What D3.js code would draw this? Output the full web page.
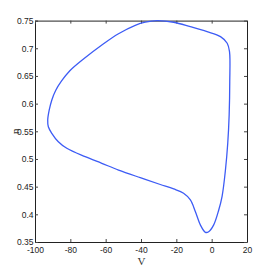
<!DOCTYPE html>
<html>
<head>
<script src="https://d3js.org/d3.v7.min.js"></script>
<style>
  body { margin: 0; background: #fff; }
  .tick text { font-family: "Liberation Sans Narrow", "Liberation Sans", sans-serif; font-size: 8.5px; fill: #222; }
</style>
</head>
<body>
<div id="chart"></div>
<script>
// limit cycle (V, n), clockwise from left edge
const vVals = [-92.8, -91.94, -90.47, -88.31, -84.96, -80.14, -72.2, -62.16, -52.74, -43.26, -37.59, -30.95, -21.5, -12.1, -2.6, 5.0, 8.8, 10.1, 10.24, 9.9, 9.1, 7.8, 5.9, 4.0, 1.15, -1.7, -3.55, -6.4, -9.2, -12.05, -15.9, -21.5, -29.08, -40.4, -52.7, -62.2, -71.6, -82.0, -86.8, -90.5, -92.45];
const nVals = [0.5704, 0.5885, 0.6066, 0.6237, 0.6409, 0.6598, 0.6815, 0.7059, 0.7262, 0.7415, 0.7471, 0.7498, 0.747, 0.739, 0.730, 0.721, 0.709, 0.6938, 0.6396, 0.5794, 0.5283, 0.480, 0.4325, 0.4078, 0.381, 0.3686, 0.3675, 0.381, 0.4047, 0.4259, 0.438, 0.4458, 0.4539, 0.4662, 0.480, 0.4922, 0.5041, 0.5193, 0.5312, 0.5464, 0.5583];
const xTicks = [-100, -80, -60, -40, -20, 0, 20];
const yTicks = [0.35, 0.4, 0.45, 0.5, 0.55, 0.6, 0.65, 0.7, 0.75];

const W = 273, H = 273;
const margin = { top: 20.6, right: 26, bottom: 31, left: 35 };
const width = W - margin.left - margin.right;
const height = H - margin.top - margin.bottom;

const svg = d3.select("#chart").append("svg")
    .attr("width", W).attr("height", H)
  .append("g")
    .attr("transform", `translate(${margin.left}, ${margin.top})`);

const x = d3.scaleLinear().domain([-100, 20]).range([0, width]);
const y = d3.scaleLinear().domain([0.35, 0.75]).range([height, 0]);

const fmtX = d => String(d);
const fmtY = d => String(d);

// axes, matlab style: ticks inward, box all round
svg.append("g").attr("transform", `translate(0, ${height})`)
    .call(d3.axisBottom(x).tickValues(xTicks).tickSizeInner(-3).tickSizeOuter(0).tickPadding(5).tickFormat(fmtX));
svg.append("g")
    .call(d3.axisLeft(y).tickValues(yTicks).tickSizeInner(-3).tickSizeOuter(0).tickPadding(1.5).tickFormat(fmtY));
svg.append("g")
    .call(d3.axisTop(x).tickValues(xTicks).tickSizeInner(-3).tickSizeOuter(0).tickFormat(""));
svg.append("g").attr("transform", `translate(${width}, 0)`)
    .call(d3.axisRight(y).tickValues(yTicks).tickSizeInner(-3).tickSizeOuter(0).tickFormat(""));
svg.selectAll(".domain").attr("stroke", "#222");
svg.selectAll(".tick line").attr("stroke", "#444");

const pts = vVals.map((v, i) => [v, nVals[i]]);
svg.append("path")
    .datum(pts)
    .attr("fill", "none")
    .attr("stroke", "#3d5cf5")
    .attr("stroke-width", 1.3)
    .attr("d", d3.line().x(d => x(d[0])).y(d => y(d[1])).curve(d3.curveCatmullRomClosed.alpha(0.5)));

// labels
svg.append("text")
    .attr("x", x(-40) + 0.5).attr("y", height + 23)
    .attr("text-anchor", "middle")
    .style("font-family", "Liberation Serif, serif").style("font-size", "11px").style("fill", "#333")
    .text("V");
svg.append("text")
    .attr("transform", `translate(-19.5, ${y(0.55)}) rotate(-90)`)
    .attr("text-anchor", "middle")
    .attr("dy", "0.3em")
    .style("font-family", "Liberation Serif, serif").style("font-size", "11px").style("fill", "#333")
    .text("n");
</script>
</body>
</html>
